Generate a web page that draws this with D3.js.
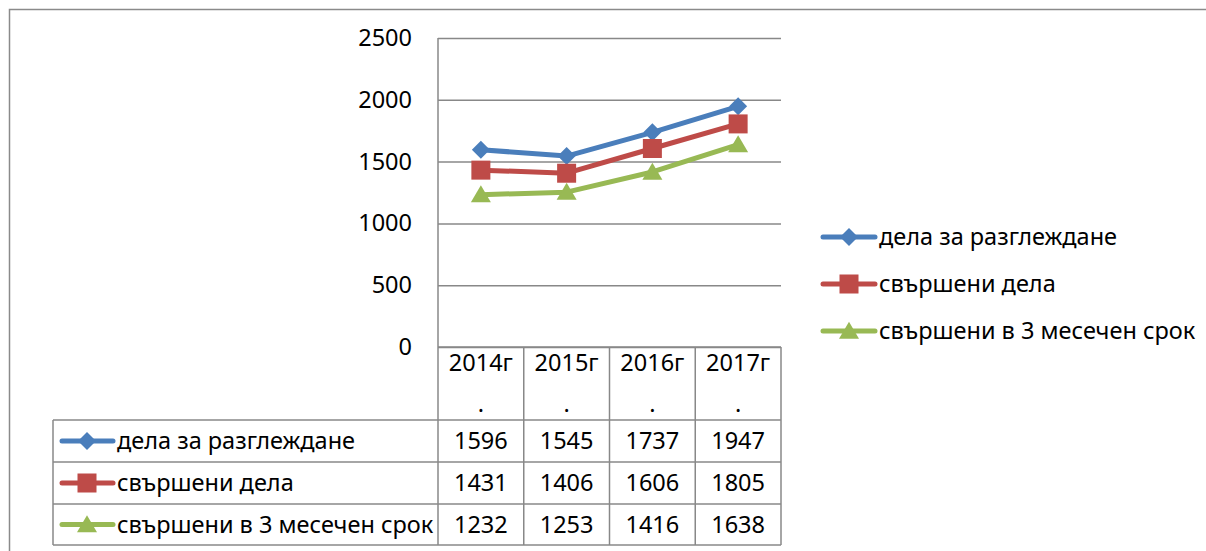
<!DOCTYPE html>
<html>
<head>
<meta charset="utf-8">
<script src="https://cdn.jsdelivr.net/npm/d3@7"></script>
<style>
  html, body { margin: 0; padding: 0; background: #fff; overflow: hidden; }
  svg { display: block; }
  text { font-family: "Noto Sans", "Open Sans", sans-serif; fill: #000; }
</style>
</head>
<body>
<svg id="chart" width="1206" height="551"></svg>
<script>
// ---- data ----
const categories = ["2014г.", "2015г.", "2016г.", "2017г."];
const seriesNames = ["дела за разглеждане", "свършени дела", "свършени в 3 месечен срок"];
const delaZaRazglezhdane = [1596, 1545, 1737, 1947];
const svarsheniDela = [1431, 1406, 1606, 1805];
const svarsheniV3Meseca = [1232, 1253, 1416, 1638];
const yTicks = [0, 500, 1000, 1500, 2000, 2500];
const seriesColors = ["#4A7EBB", "#BE4B48", "#98B954"];
const seriesMarkers = ["diamond", "square", "triangle"];

const seriesValues = [delaZaRazglezhdane, svarsheniDela, svarsheniV3Meseca];
const series = seriesNames.map((name, i) => ({
  name, values: seriesValues[i], color: seriesColors[i], marker: seriesMarkers[i]
}));

// ---- layout ----
const plotLeft = 438, plotRight = 781, plotTop = 38, plotBottom = 347;
const rowBounds = [347, 420, 462, 504, 545];
const tableLeft = 53;
const gridColor = "#888888";
const fontSize = 23.5;

const svg = d3.select("#chart");

const x = d3.scaleBand().domain(categories).range([plotLeft, plotRight]).padding(0);
const y = d3.scaleLinear().domain([0, 2500]).range([plotBottom, plotTop]);

// outer chart border
svg.append("rect")
  .attr("x", 9.5).attr("y", 9.5).attr("width", 1400).attr("height", 700)
  .attr("fill", "none").attr("stroke", "#8a8a8a").attr("stroke-width", 1.5);

// gridlines + y axis labels
const yAxis = d3.axisLeft(y).tickValues(yTicks).tickFormat(d3.format("d"))
  .tickSize(-(plotRight - plotLeft)).tickPadding(26);
const gAxis = svg.append("g").attr("transform", `translate(${plotLeft},0)`).call(yAxis);
gAxis.select(".domain").remove();
gAxis.selectAll(".tick line").attr("stroke", gridColor).attr("stroke-width", 1.5);
gAxis.selectAll(".tick text")
  .attr("font-size", fontSize)
  .attr("font-family", "Noto Sans")
  .attr("fill", "#000");

// vertical axis line down through table
svg.append("line")
  .attr("x1", plotLeft).attr("x2", plotLeft)
  .attr("y1", plotTop).attr("y2", rowBounds[4])
  .attr("stroke", gridColor).attr("stroke-width", 1.5);

// table grid
const tableG = svg.append("g");
categories.forEach(c => {
  tableG.append("line")
    .attr("x1", x(c) + x.bandwidth()).attr("x2", x(c) + x.bandwidth())
    .attr("y1", rowBounds[0]).attr("y2", rowBounds[4])
    .attr("stroke", gridColor).attr("stroke-width", 1.5);
});
rowBounds.forEach((rb, i) => {
  tableG.append("line")
    .attr("x1", i === 0 ? plotLeft : tableLeft).attr("x2", plotRight)
    .attr("y1", rb).attr("y2", rb)
    .attr("stroke", gridColor).attr("stroke-width", 1.5);
});
tableG.append("line")
  .attr("x1", tableLeft).attr("x2", tableLeft)
  .attr("y1", rowBounds[1]).attr("y2", rowBounds[4])
  .attr("stroke", gridColor).attr("stroke-width", 1.5);

// header labels (wrapped: "2014г" / ".")
categories.forEach(c => {
  const t = tableG.append("text")
    .attr("x", x(c) + x.bandwidth() / 2)
    .attr("text-anchor", "middle")
    .attr("font-size", fontSize);
  t.append("tspan").attr("x", x(c) + x.bandwidth() / 2).attr("y", 371).text(c.slice(0, -1));
  t.append("tspan").attr("x", x(c) + x.bandwidth() / 2).attr("y", 412).text(c.slice(-1));
});

function drawMarker(g, type, cx, cy, color, scale) {
  const s = scale || 1;
  if (type === "diamond") {
    const r = 9 * s;
    g.append("path")
      .attr("d", `M${cx},${cy - r}L${cx + r},${cy}L${cx},${cy + r}L${cx - r},${cy}Z`)
      .attr("fill", color);
  } else if (type === "square") {
    const h = 9.5 * s;
    g.append("rect").attr("x", cx - h).attr("y", cy - h).attr("width", 2 * h).attr("height", 2 * h)
      .attr("fill", color);
  } else {
    const w = 10 * s, h = 17 * s;
    g.append("path")
      .attr("d", `M${cx},${cy - h * 0.55}L${cx + w},${cy + h * 0.45}L${cx - w},${cy + h * 0.45}Z`)
      .attr("fill", color);
  }
}

// table rows: legend key + values
series.forEach((s, i) => {
  const yc = (rowBounds[i + 1] + rowBounds[i + 2]) / 2;
  const g = tableG.append("g");
  g.append("line").attr("x1", 62).attr("x2", 113).attr("y1", yc).attr("y2", yc)
    .attr("stroke", s.color).attr("stroke-width", 5).attr("stroke-linecap", "round");
  drawMarker(g, s.marker, 87, yc, s.color);
  g.append("text").attr("x", 117).attr("y", yc + 8).attr("font-size", fontSize).text(s.name);
  s.values.forEach((v, j) => {
    g.append("text")
      .attr("x", x(categories[j]) + x.bandwidth() / 2)
      .attr("y", yc + 8)
      .attr("text-anchor", "middle")
      .attr("font-size", fontSize)
      .text(v);
  });
});

// lines + markers
const line = d3.line()
  .x((d, i) => x(categories[i]) + x.bandwidth() / 2)
  .y(d => y(d));
const linesG = svg.append("g");
series.forEach(s => {
  linesG.append("path").datum(s.values)
    .attr("d", line)
    .attr("fill", "none").attr("stroke", s.color).attr("stroke-width", 5)
    .attr("stroke-linejoin", "round").attr("stroke-linecap", "round");
});
series.forEach(s => {
  s.values.forEach((v, i) => {
    drawMarker(linesG, s.marker, x(categories[i]) + x.bandwidth() / 2, y(v), s.color);
  });
});

// right legend
const legendG = svg.append("g");
const legendY = [237, 284, 331];
series.forEach((s, i) => {
  const yc = legendY[i];
  legendG.append("line").attr("x1", 823).attr("x2", 875).attr("y1", yc).attr("y2", yc)
    .attr("stroke", s.color).attr("stroke-width", 5).attr("stroke-linecap", "round");
  drawMarker(legendG, s.marker, 849, yc, s.color);
  legendG.append("text").attr("x", 879).attr("y", yc + 8).attr("font-size", fontSize).text(s.name);
});
</script>
</body>
</html>
